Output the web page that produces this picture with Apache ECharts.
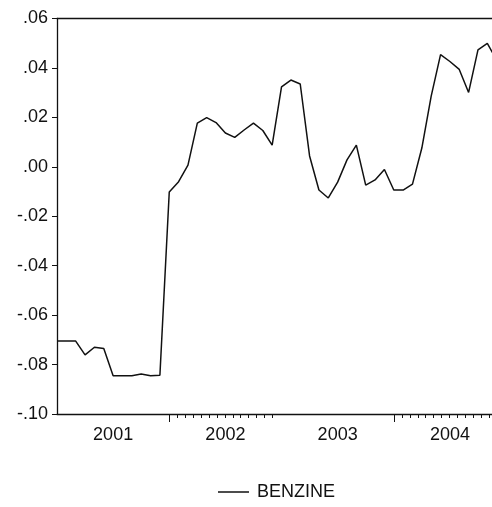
<!DOCTYPE html>
<html>
<head>
<meta charset="utf-8">
<script src="https://cdn.jsdelivr.net/npm/echarts@6/dist/echarts.min.js"></script>
<style>
  html, body { margin: 0; padding: 0; background: #fff; }
  #chart { width: 492px; height: 507px; }
</style>
</head>
<body>
<div id="chart"></div>
<script>
// Monthly series, 2001M01 .. 2004M12
const years = ['2001', '2002', '2003', '2004'];
const benzine = [
  -0.0705, -0.0705, -0.0705, -0.0761, -0.0730, -0.0735,
  -0.0845, -0.0845, -0.0845, -0.0838, -0.0845, -0.0843,
  -0.0102, -0.0060,  0.0007,  0.0177,  0.0199,  0.0179,
   0.0137,  0.0119,  0.0149,  0.0177,  0.0147,  0.0088,
   0.0323,  0.0351,  0.0335,  0.0044, -0.0094, -0.0126,
  -0.0062,  0.0028,  0.0088, -0.0074, -0.0053, -0.0011,
  -0.0094, -0.0094, -0.0070,  0.0076,  0.0286,  0.0454,
   0.0426,  0.0394,  0.0301,  0.0473,  0.0499,  0.0432
];
const yMin = -0.10, yMax = 0.06, yStep = 0.02;

const seriesData = benzine.map((v, i) => [i, v]);

// Year tick marks on the time axis: a long tick at the start of the year
// followed by a run of short ones (only every other year carries them).
const tickedYears = [1, 3];
const tickMarks = [];
tickedYears.forEach(y => {
  const start = y * 12;
  tickMarks.push([start, 1]);
  for (let k = 1; k <= 13; k++) {
    const x = start + k * (11 / 13);
    if (x <= 46.5) tickMarks.push([x, 0]);
  }
});

const font = '"Liberation Sans", Arial, sans-serif';
const ink = '#111';

const chart = echarts.init(document.getElementById('chart'), null, { renderer: 'canvas' });
chart.setOption({
  animation: false,
  backgroundColor: '#ffffff',
  grid: { left: 57, right: 0, top: 18.5, bottom: 93, containLabel: false },
  legend: {
    data: ['BENZINE'],
    left: 213,
    top: 478,
    icon: 'rect',
    itemWidth: 31,
    itemHeight: 1.5,
    itemStyle: { color: ink },
    textStyle: { fontFamily: font, fontSize: 18, color: ink, padding: [0, 0, 0, 3] }
  },
  xAxis: [
    {
      type: 'value', min: 0, max: 46.5, interval: 6, position: 'bottom',
      axisLine: { show: true, onZero: false, lineStyle: { color: ink, width: 1.3 } },
      axisTick: { show: false },
      splitLine: { show: false },
      axisLabel: {
        margin: 12, fontFamily: font, fontSize: 18, color: ink,
        showMaxLabel: false, showMinLabel: false,
        formatter: v => (v % 12 === 6 ? years[(v - 6) / 12] : '')
      }
    },
    {
      type: 'value', min: 0, max: 46.5, position: 'top',
      axisLine: { show: true, onZero: false, lineStyle: { color: ink, width: 1.3 } },
      axisTick: { show: false }, axisLabel: { show: false }, splitLine: { show: false }
    }
  ],
  yAxis: {
    type: 'value', min: yMin, max: yMax, interval: yStep,
    axisLine: { show: true, onZero: false, lineStyle: { color: ink, width: 1.3 } },
    axisTick: { show: true, length: 5, lineStyle: { color: ink } },
    splitLine: { show: false },
    axisLabel: {
      margin: 9, fontFamily: font, fontSize: 18, color: ink,
      formatter: v => {
        const s = Math.abs(v).toFixed(2).replace(/^0/, '');
        return (v < -1e-9 ? '-' : '') + s;
      }
    }
  },
  series: [
    {
      name: 'BENZINE',
      type: 'line',
      data: seriesData,
      showSymbol: false,
      symbol: 'none',
      lineStyle: { color: ink, width: 1.5 },
      itemStyle: { color: ink },
      clip: true,
      silent: true
    },
    {
      type: 'custom',
      data: tickMarks,
      clip: false,
      silent: true,
      renderItem: (params, api) => {
        const p = api.coord([api.value(0), yMin]);
        const len = api.value(1) ? 8 : 4;
        return {
          type: 'line',
          shape: { x1: Math.round(p[0]) + 0.5, y1: p[1], x2: Math.round(p[0]) + 0.5, y2: p[1] + len },
          style: { stroke: ink, lineWidth: 1 }
        };
      }
    }
  ]
});
</script>
</body>
</html>
